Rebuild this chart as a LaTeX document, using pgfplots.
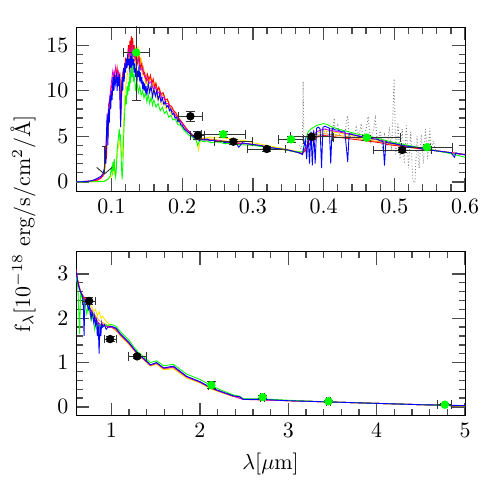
\documentclass[border=0pt]{standalone}
\usepackage{pgfplots}
\pgfplotsset{compat=1.18}
\usetikzlibrary{arrows.meta}

\definecolor{fgreen}{RGB}{0,255,0}
\definecolor{fyellow}{RGB}{255,230,0}
\definecolor{forange}{RGB}{255,160,0}
\definecolor{fred}{RGB}{255,0,0}
\definecolor{fmag}{RGB}{220,0,220}
\definecolor{fblue}{RGB}{0,0,255}

\pgfplotsset{
  sedaxis/.style={
    scale only axis, width=177.4pt, height=74.8pt,
    major tick length=6pt, minor tick length=3pt,
    tick style={black!70, line width=0.6pt},
    minor x tick num=4, minor y tick num=4,
  },
  spec/.style={line width=0.4pt, no markers},
  pts/.style={only marks, mark=*, mark size=1.7pt,
    error bars/x dir=both, error bars/x explicit,
    error bars/y dir=both, error bars/y explicit,
    error bars/error bar style={black!80, line width=0.4pt},
    error bars/error mark options={black!80, line width=0.4pt, mark size=2pt, rotate=90}},
}

\begin{document}
\begin{tikzpicture}

% upper panel: UV / optical
\begin{axis}[sedaxis, at={(0,0)}, anchor=south west,
  xmin=0.05, xmax=0.6, ymin=-1, ymax=17,
  xtick={0.1,0.2,0.3,0.4,0.5,0.6}, ytick={0,5,10,15},
  xticklabels={0.1,0.2,0.3,0.4,0.5,0.6}]

% observed spectrum
\addplot[densely dotted, gray, line width=0.4pt] coordinates {
(0.365,4.0)(0.368,3.6)(0.370,4.2)(0.371,11.0)(0.372,4.5)(0.375,4.3)(0.378,5.0)(0.38,4.6)(0.383,5.3)(0.386,4.8)
(0.39,5.5)(0.393,5.0)(0.396,5.6)(0.4,5.2)(0.403,5.8)(0.406,5.0)(0.41,6.0)(0.413,5.2)(0.415,7.0)(0.417,5.0)
(0.42,6.2)(0.423,4.8)(0.426,5.8)(0.43,5.0)(0.432,6.5)(0.434,7.3)(0.436,4.6)(0.44,5.5)(0.443,4.5)(0.446,6.0)
(0.45,5.0)(0.453,6.4)(0.456,4.6)(0.46,5.8)(0.463,7.2)(0.466,4.4)(0.47,5.5)(0.473,7.0)(0.476,4.2)(0.48,5.6)
(0.483,3.8)(0.486,5.2)(0.49,4.0)(0.493,6.0)(0.496,3.5)(0.4996,11.3)(0.502,3.0)(0.505,6.5)(0.508,2.5)(0.511,5.8)
(0.514,2.0)(0.517,6.2)(0.52,1.5)(0.523,5.5)(0.526,0.2)(0.529,-0.1)(0.532,5.0)(0.535,1.5)(0.538,5.2)(0.541,2.0)
(0.544,5.8)(0.547,2.5)(0.55,5.9)(0.552,3.0)(0.555,4.5)(0.558,3.5)};

% models
\addplot[spec, fyellow] coordinates {
(0.05,0)(0.08,0.03)(0.09,0.1)(0.095,0.3)(0.1,0.6)(0.103,1.2)(0.105,0.8)(0.107,2)(0.109,3.5)(0.111,4.5)
(0.113,3.8)(0.115,2.5)(0.116,4)(0.117,6.5)(0.118,8)(0.119,9.5)(0.12,10.5)(0.122,11.5)(0.124,12.5)(0.126,13.2)
(0.128,12.5)(0.13,13.8)(0.132,13)(0.134,14.3)(0.136,13.2)(0.138,14.5)(0.14,12.8)(0.142,13.5)(0.144,11.8)(0.146,12.2)
(0.148,10.8)(0.15,11)(0.153,10)(0.156,10.6)(0.159,9.5)(0.162,9.9)(0.165,9)(0.168,9.3)(0.171,8.5)(0.174,8.8)
(0.177,8)(0.18,8.2)(0.184,7.5)(0.188,7.3)(0.192,6.8)(0.196,6.5)(0.2,6.2)(0.205,5.7)(0.21,5.4)(0.215,5.0)
(0.22,4.7)(0.223,3.5)(0.226,4.6)(0.23,4.8)(0.24,4.9)(0.25,4.9)(0.26,4.8)(0.27,4.7)(0.28,4.6)(0.29,4.5)
(0.3,4.3)(0.32,4.0)(0.34,3.7)(0.36,3.4)(0.37,3.2)(0.38,4.4)(0.39,5.3)(0.4,5.6)(0.42,5.4)(0.44,5.1)
(0.46,4.8)(0.48,4.5)(0.5,4.2)(0.52,3.9)(0.54,3.7)(0.56,3.4)(0.58,3.2)(0.6,3.0)};
\addplot[spec, forange] coordinates {
(0.05,0)(0.08,0.15)(0.088,0.6)(0.09,1.0)(0.093,3)(0.095,5.5)(0.098,8.5)(0.1,9.8)(0.103,10.8)(0.106,11.5)
(0.109,11)(0.112,11.5)(0.113,7)(0.115,10.5)(0.118,12)(0.12,12.8)(0.123,13.5)(0.125,14.5)(0.127,13.8)(0.129,15)
(0.131,14)(0.133,14.8)(0.135,13.5)(0.137,14.5)(0.139,13)(0.141,13.5)(0.143,12.2)(0.145,12.6)(0.147,11.5)(0.15,11.8)
(0.153,11)(0.156,11.4)(0.159,10.5)(0.162,10.9)(0.165,10)(0.168,10.2)(0.171,9.4)(0.174,9.6)(0.177,8.8)(0.18,8.9)
(0.184,8.1)(0.188,7.8)(0.192,7.3)(0.196,6.9)(0.2,6.5)(0.205,6)(0.21,5.5)(0.215,5.1)(0.22,4.9)(0.23,4.7)
(0.24,4.7)(0.25,4.6)(0.26,4.5)(0.28,4.3)(0.3,4.1)(0.32,3.8)(0.34,3.6)(0.36,3.3)(0.37,3.1)(0.38,4.2)
(0.39,5.0)(0.4,5.3)(0.42,5.1)(0.44,4.9)(0.46,4.6)(0.48,4.4)(0.5,4.1)(0.52,3.8)(0.54,3.6)(0.56,3.4)
(0.58,3.2)(0.6,3.0)};
\addplot[spec, fred] coordinates {
(0.05,0)(0.07,0.05)(0.08,0.2)(0.085,0.4)(0.088,0.7)(0.09,1.2)(0.092,4)(0.093,2.5)(0.094,7)(0.095,5)
(0.096,8.5)(0.098,9)(0.1,10.5)(0.102,11)(0.104,12)(0.106,11.2)(0.108,12.5)(0.11,11)(0.112,12)(0.113,7.5)
(0.114,10)(0.116,12)(0.118,12.5)(0.12,13.5)(0.122,13)(0.124,15)(0.125,13.5)(0.126,15.5)(0.127,14)(0.128,16)
(0.129,14.5)(0.13,15.8)(0.131,14)(0.132,15)(0.133,13.5)(0.135,14.2)(0.137,13)(0.139,13.8)(0.141,12.5)(0.143,13)
(0.145,11.8)(0.147,12)(0.149,11)(0.151,11.8)(0.153,11.2)(0.155,11.7)(0.157,10.8)(0.159,11.3)(0.161,10.4)(0.163,10.8)
(0.165,10)(0.167,10.4)(0.17,9.6)(0.173,9.8)(0.176,9)(0.179,9.1)(0.182,8.4)(0.185,8.3)(0.188,7.8)(0.191,7.6)
(0.194,7.1)(0.197,6.8)(0.2,6.5)(0.205,5.9)(0.21,5.5)(0.215,5.1)(0.22,4.9)(0.225,4.6)(0.23,4.7)(0.24,4.6)
(0.25,4.5)(0.26,4.4)(0.27,4.3)(0.28,4.2)(0.29,4.2)(0.3,4.1)(0.32,3.8)(0.34,3.6)(0.36,3.3)(0.37,3.1)
(0.375,3.5)(0.38,4.2)(0.385,4.6)(0.39,4.9)(0.395,5.0)(0.4,5.1)(0.41,5.0)(0.42,4.9)(0.43,4.8)(0.44,4.7)
(0.45,4.6)(0.46,4.5)(0.47,4.4)(0.48,4.3)(0.49,4.1)(0.5,4.0)(0.52,3.8)(0.54,3.6)(0.56,3.4)(0.58,3.2)(0.6,3.0)};
\addplot[spec, fmag] coordinates {
(0.05,0)(0.07,0.1)(0.08,0.3)(0.085,0.5)(0.088,0.8)(0.09,1.3)(0.092,3.8)(0.094,6.5)(0.096,8.2)(0.098,9.5)
(0.1,11)(0.102,12.2)(0.104,11.5)(0.106,12.6)(0.108,11.2)(0.11,12)(0.112,10)(0.113,7)(0.115,10.8)(0.118,12.2)
(0.12,13)(0.123,13.8)(0.125,14.5)(0.127,13.5)(0.129,15)(0.131,13.8)(0.133,14.2)(0.135,13)(0.138,13.5)(0.141,12.3)
(0.144,12.5)(0.147,11.5)(0.15,11.4)(0.153,10.8)(0.156,11)(0.159,10.2)(0.162,10.4)(0.165,9.7)(0.168,9.9)(0.171,9.2)
(0.174,9.3)(0.177,8.6)(0.18,8.6)(0.184,7.9)(0.188,7.6)(0.192,7.1)(0.196,6.8)(0.2,6.4)(0.205,5.9)(0.21,5.5)
(0.215,5.1)(0.22,4.8)(0.23,4.6)(0.25,4.5)(0.27,4.3)(0.29,4.2)(0.31,4.0)(0.33,3.7)(0.35,3.5)(0.37,3.1)
(0.38,4.6)(0.39,5.5)(0.4,5.8)(0.42,5.5)(0.44,5.2)(0.46,4.9)(0.48,4.6)(0.5,4.2)(0.52,3.9)(0.54,3.7)
(0.56,3.4)(0.58,3.2)(0.6,2.95)};
\addplot[spec, fgreen] coordinates {
(0.05,0)(0.08,0.02)(0.09,0.05)(0.095,0.3)(0.098,0.6)(0.1,1.5)(0.101,1)(0.102,2.2)(0.103,1.2)(0.104,2.5)
(0.105,1.0)(0.106,0.5)(0.107,1.5)(0.108,3.5)(0.109,4.2)(0.11,5.0)(0.111,5.8)(0.112,4.5)(0.113,5.2)(0.114,2.0)
(0.115,0.3)(0.116,1.5)(0.117,4.5)(0.118,6.5)(0.119,8)(0.12,9.5)(0.121,8.5)(0.122,10.5)(0.123,9.5)(0.124,11)
(0.125,10)(0.126,12)(0.127,10.8)(0.128,12.5)(0.129,11.5)(0.13,12.8)(0.131,11)(0.132,11.8)(0.134,10.2)(0.136,11)
(0.138,9.8)(0.14,10.5)(0.142,9.5)(0.144,10)(0.146,9.2)(0.148,9.8)(0.15,8.8)(0.152,9.6)(0.154,8.6)(0.156,9.3)
(0.158,8.4)(0.16,9)(0.163,8.2)(0.166,8.6)(0.169,7.8)(0.172,8.2)(0.175,7.5)(0.178,7.8)(0.181,7.1)(0.184,7.3)
(0.187,6.8)(0.19,6.9)(0.194,6.3)(0.198,6.2)(0.202,5.7)(0.206,5.4)(0.21,5.1)(0.215,4.9)(0.22,4.5)(0.222,4.0)
(0.225,4.6)(0.23,4.4)(0.235,4.5)(0.24,4.3)(0.25,4.4)(0.26,4.2)(0.27,4.2)(0.28,4.1)(0.3,4.0)(0.32,3.8)
(0.34,3.6)(0.36,3.3)(0.37,3.3)(0.374,4.5)(0.378,5.5)(0.382,5.8)(0.386,6.0)(0.39,6.2)(0.395,6.3)(0.4,6.4)
(0.405,6.3)(0.41,6.1)(0.42,5.8)(0.43,5.6)(0.44,5.4)(0.45,5.2)(0.46,5.1)(0.47,4.9)(0.48,4.7)(0.49,4.5)
(0.5,4.3)(0.52,4.0)(0.54,3.7)(0.56,3.4)(0.58,3.1)(0.6,2.7)};
\addplot[spec, fblue] coordinates {
(0.05,0)(0.06,0.02)(0.07,0.1)(0.075,0.2)(0.08,0.4)(0.085,0.6)(0.088,0.9)(0.09,1.5)(0.091,3.5)(0.092,2.0)
(0.093,5.5)(0.094,7.5)(0.095,4)(0.096,8)(0.097,6.5)(0.098,9.5)(0.099,8)(0.1,10)(0.101,9)(0.102,11.5)
(0.103,10)(0.104,11.8)(0.105,10.5)(0.106,11)(0.107,12)(0.108,10)(0.109,11.5)(0.110,10.5)(0.111,11.8)(0.112,9)
(0.113,6.0)(0.114,9.5)(0.115,11.5)(0.116,10)(0.117,12.5)(0.118,11)(0.119,13)(0.12,12)(0.121,13.5)(0.122,12.5)
(0.123,14)(0.124,12.8)(0.125,13.5)(0.126,12)(0.127,13.8)(0.128,12.5)(0.129,14.2)(0.13,12.8)(0.131,13.5)(0.132,12)
(0.133,13)(0.134,11.5)(0.135,12.5)(0.136,11)(0.137,12.2)(0.138,11.5)(0.139,12.8)(0.14,11)(0.141,12)(0.142,10.8)
(0.143,11.5)(0.144,10.2)(0.145,11)(0.146,10)(0.147,10.8)(0.148,9.8)(0.149,10.5)(0.15,9.5)(0.152,10.8)(0.154,9.8)
(0.156,10.5)(0.158,9.3)(0.16,10.2)(0.162,9.4)(0.164,10)(0.166,9)(0.168,9.6)(0.17,8.8)(0.172,9.2)(0.174,8.5)
(0.176,8.8)(0.178,8.2)(0.18,8.4)(0.182,7.8)(0.184,8)(0.186,7.4)(0.188,7.5)(0.19,7)(0.192,7.1)(0.194,6.6)
(0.196,6.7)(0.198,6.3)(0.2,6.2)(0.203,5.8)(0.206,5.6)(0.209,5.4)(0.212,5.2)(0.215,5.0)(0.218,4.8)(0.221,4.9)
(0.224,4.5)(0.227,4.7)(0.23,4.6)(0.235,4.7)(0.24,4.5)(0.245,4.6)(0.25,4.4)(0.255,4.5)(0.26,4.3)(0.265,4.4)
(0.27,4.2)(0.275,4.4)(0.28,3.8)(0.285,4.3)(0.29,4.2)(0.30,4.1)(0.31,4.0)(0.32,3.8)(0.33,3.7)(0.34,3.6)
(0.35,3.5)(0.36,3.3)(0.365,3.2)(0.37,3.0)(0.372,3.8)(0.374,4.6)(0.376,2.5)(0.378,5.2)(0.38,2.0)(0.382,5.5)
(0.384,1.8)(0.386,5.7)(0.388,2.0)(0.39,5.9)(0.393,6.0)(0.395,5.8)(0.397,1.5)(0.399,6.0)(0.402,6.1)(0.405,6.0)
(0.408,5.9)(0.410,2.0)(0.412,5.9)(0.416,5.7)(0.42,5.7)(0.425,5.5)(0.43,5.5)(0.434,2.2)(0.436,5.3)(0.44,5.2)
(0.445,5.1)(0.45,5.0)(0.455,4.9)(0.46,4.9)(0.465,4.8)(0.47,4.7)(0.475,4.7)(0.48,4.5)(0.484,4.4)(0.486,1.8)
(0.488,4.4)(0.49,4.3)(0.5,4.2)(0.51,4.0)(0.52,3.9)(0.53,3.8)(0.54,3.6)(0.55,3.5)(0.56,3.4)(0.57,3.3)
(0.58,3.2)(0.585,2.7)(0.587,3.2)(0.59,3.1)(0.6,3.0)};

% upper limit
\addplot[black!80, line width=0.4pt, -{Straight Barb[length=3pt, width=7pt]}] coordinates {(0.09,3.9)(0.09,0.8)};
\addplot[black!80, line width=0.4pt] coordinates {(0.087,3.9)(0.093,3.9)};

% photometry
\addplot[pts, black, mark options={fill=black}] coordinates {
(0.2116,7.2) +- (0.017,0.55)
(0.222,5.1) +- (0.01,0.4)
(0.2724,4.41) +- (0.027,0.3)
(0.3196,3.61) +- (0.027,0.3)
(0.383,4.96) +- (0.03,0.3)
(0.511,3.5) +- (0.041,0.3)};
\addplot[pts, fgreen, mark options={fill=fgreen}] coordinates {
(0.135,14.2) +- (0.018,5.3)
(0.258,5.23) +- (0.031,0.3)
(0.354,4.67) +- (0.018,0.3)
(0.461,4.85) +- (0.047,0.3)
(0.546,3.8) +- (0.036,0.3)};
\end{axis}

% lower panel: near-IR
\begin{axis}[sedaxis, at={(0,-102.5pt)}, anchor=south west,
  xmin=0.6, xmax=5, ymin=-0.2, ymax=3.5,
  xtick={1,2,3,4,5}, ytick={0,1,2,3},
  xlabel={$\lambda[\mu\mathrm{m}]$}]
\addplot[spec, fyellow] coordinates {
(0.6,3.0)(0.62,2.75)(0.65,2.6)(0.68,2.5)(0.7,2.4)(0.72,2.45)(0.75,2.3)(0.78,2.25)(0.8,2.15)(0.82,2.2)
(0.84,2.05)(0.86,2.15)(0.88,2.0)(0.9,2.05)(0.93,1.95)(0.96,1.9)(1.0,1.8)(1.05,1.74)(1.1,1.6)(1.15,1.5)
(1.2,1.4)(1.25,1.28)(1.3,1.16)(1.36,1.07)(1.44,0.92)(1.51,0.96)(1.59,0.84)(1.7,0.86)(1.85,0.65)(2.0,0.54)
(2.13,0.4)(2.25,0.32)(2.38,0.23)(2.45,0.22)(2.49,0.17)(2.7,0.17)(3.0,0.14)(3.5,0.11)(4.0,0.08)(4.5,0.05)(5.0,0.02)};
\addplot[spec, forange] coordinates {
(0.6,3.0)(0.63,2.7)(0.66,2.55)(0.7,2.4)(0.74,2.3)(0.78,2.15)(0.82,2.05)(0.86,1.95)(0.9,1.9)(0.95,1.85)
(1.0,1.8)(1.1,1.63)(1.2,1.43)(1.3,1.18)(1.36,1.09)(1.44,0.94)(1.51,0.98)(1.59,0.86)(1.7,0.89)(1.85,0.67)
(2.0,0.56)(2.13,0.42)(2.38,0.24)(2.49,0.17)(3.0,0.14)(4.0,0.08)(5.0,0.02)};
\addplot[spec, fred] coordinates {
(0.6,3.1)(0.62,2.85)(0.65,2.6)(0.68,2.5)(0.7,2.45)(0.73,2.35)(0.76,2.2)(0.79,2.1)(0.82,2.0)(0.85,1.9)
(0.88,1.85)(0.92,1.85)(0.96,1.8)(1.0,1.8)(1.05,1.76)(1.1,1.63)(1.15,1.53)(1.2,1.43)(1.25,1.3)(1.3,1.18)
(1.36,1.09)(1.44,0.94)(1.51,0.99)(1.59,0.87)(1.7,0.9)(1.85,0.68)(2.0,0.56)(2.13,0.42)(2.25,0.33)(2.38,0.24)
(2.45,0.23)(2.49,0.17)(2.7,0.17)(3.0,0.14)(3.5,0.11)(4.0,0.08)(4.5,0.05)(5.0,0.02)};
\addplot[spec, fmag] coordinates {
(0.6,3.05)(0.62,2.8)(0.65,2.6)(0.68,2.5)(0.7,2.42)(0.73,2.3)(0.76,2.2)(0.79,2.1)(0.82,1.98)(0.85,1.9)
(0.88,1.85)(0.92,1.84)(0.96,1.8)(1.0,1.8)(1.05,1.76)(1.1,1.63)(1.15,1.53)(1.2,1.43)(1.25,1.3)(1.3,1.18)
(1.36,1.09)(1.44,0.94)(1.51,0.99)(1.59,0.87)(1.7,0.9)(1.85,0.68)(2.0,0.56)(2.13,0.42)(2.38,0.24)(2.49,0.17)
(3.0,0.14)(4.0,0.08)(5.0,0.02)};
\addplot[spec, fgreen] coordinates {
(0.6,2.95)(0.62,2.7)(0.64,1.65)(0.65,2.55)(0.68,2.4)(0.7,2.35)(0.72,2.1)(0.74,2.3)(0.77,1.95)(0.79,2.1)
(0.81,1.75)(0.83,1.95)(0.85,1.8)(0.87,1.85)(0.9,1.8)(0.93,1.85)(0.96,1.84)(1.0,1.86)(1.05,1.82)(1.1,1.7)
(1.15,1.6)(1.2,1.5)(1.25,1.36)(1.3,1.24)(1.36,1.14)(1.44,1.0)(1.51,1.04)(1.59,0.93)(1.7,0.96)(1.85,0.74)
(2.0,0.62)(2.13,0.48)(2.25,0.37)(2.38,0.27)(2.45,0.24)(2.49,0.18)(2.7,0.18)(3.0,0.15)(3.5,0.11)(4.0,0.08)
(4.5,0.05)(5.0,0.02)};
\addplot[spec, fblue] coordinates {
(0.6,3.05)(0.62,2.8)(0.64,2.65)(0.66,2.55)(0.68,2.45)(0.69,1.6)(0.70,2.4)(0.72,2.35)(0.74,2.2)(0.75,2.3)
(0.77,2.0)(0.78,2.15)(0.8,1.9)(0.81,2.05)(0.82,1.85)(0.83,1.95)(0.84,1.6)(0.85,1.9)(0.86,1.2)(0.87,1.85)
(0.88,1.6)(0.89,1.9)(0.9,1.8)(0.92,1.85)(0.94,1.75)(0.96,1.8)(1.0,1.82)(1.05,1.78)(1.1,1.65)(1.15,1.55)
(1.2,1.45)(1.25,1.32)(1.3,1.2)(1.36,1.1)(1.44,0.95)(1.51,1.0)(1.59,0.88)(1.7,0.92)(1.85,0.69)(2.0,0.57)
(2.13,0.43)(2.25,0.34)(2.38,0.25)(2.45,0.23)(2.49,0.17)(2.7,0.17)(3.0,0.14)(3.5,0.11)(4.0,0.08)(4.5,0.05)
(5.0,0.03)};
\addplot[pts, black, mark options={fill=black}] coordinates {
(0.747,2.39) +- (0.075,0.08)
(0.985,1.53) +- (0.07,0.05)
(1.29,1.14) +- (0.1,0.05)};
\addplot[pts, fgreen, mark options={fill=fgreen}] coordinates {
(2.13,0.49) +- (0.03,0.08)
(2.71,0.22) +- (0.02,0.03)
(3.455,0.127) +- (0.02,0.02)
(4.77,0.05) +- (0.08,0.02)};
\end{axis}

\node[rotate=90, anchor=center] at (-24.2pt,-15pt)
  {f$_\lambda$[10$^{-18}$ erg/s/cm$^2$/\AA]};

\pgfresetboundingbox
\path[use as bounding box] (-34.7pt,-136.8pt) rectangle (189.2pt,87.1pt);
\end{tikzpicture}
\end{document}
